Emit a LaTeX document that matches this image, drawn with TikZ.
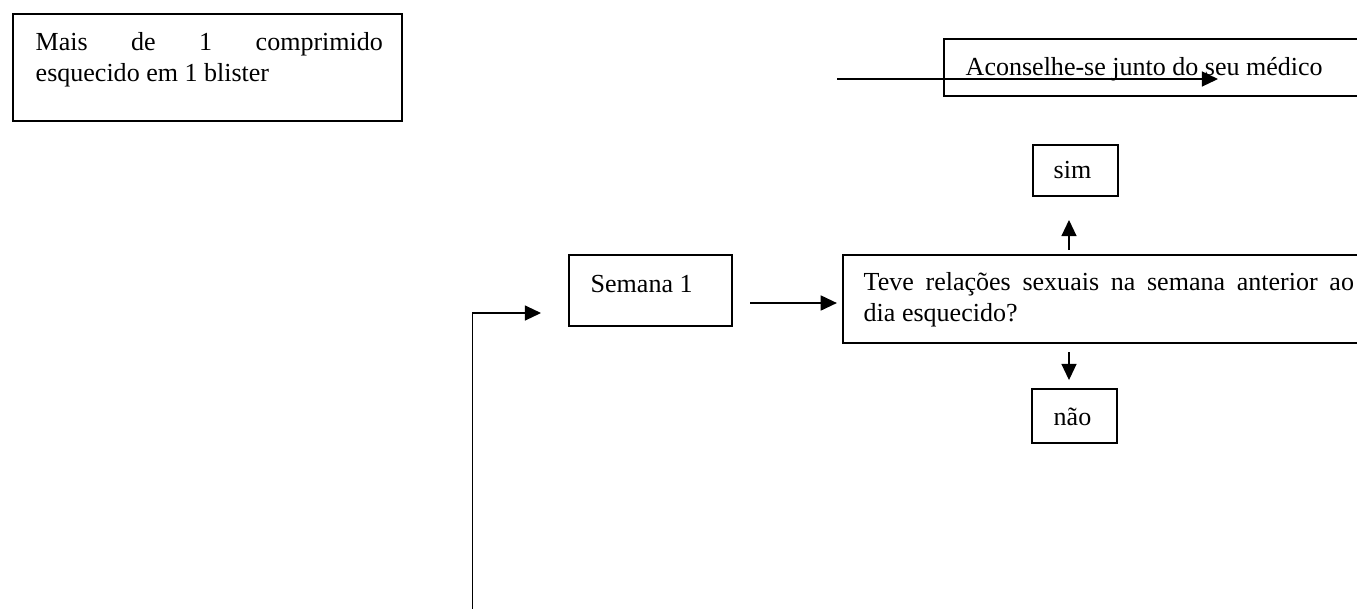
\documentclass[tikz,border=0pt]{standalone}
\usepackage{fontspec}
\setmainfont{Liberation Serif}
\usetikzlibrary{arrows.meta}
\tikzset{
  boxnode/.style={draw, line width=0.55pt, inner sep=0pt, fill=none},
  txt/.style={inner sep=0pt, anchor=base west, font=\fontsize{7.4pt}{9pt}\selectfont},
  conn/.style={line width=0.35pt, -{Triangle[length=4.6pt,width=4.3pt]}},
  plain/.style={line width=0.35pt}
}
\begin{document}
\begin{tikzpicture}[x=0.01cm, y=-0.01cm]
\useasboundingbox (0,0) rectangle (1357,608);
\clip (0,0) rectangle (1357,608);
\fill[white] (0,0) rectangle (1357,608);
% boxes
\node[boxnode, minimum width=3.89cm, minimum height=1.07cm] (b1) at (207.5,67.5) {};
\node[boxnode, minimum width=4.36cm, minimum height=0.57cm] (adv) at (1162,67.5) {};
\node[boxnode, minimum width=0.85cm, minimum height=0.51cm] (sim) at (1075.5,170.5) {};
\node[boxnode, minimum width=1.63cm, minimum height=0.71cm] (sem) at (650.5,290.5) {};
\node[boxnode, minimum width=5.37cm, minimum height=0.88cm] (q) at (1111.5,299) {};
\node[boxnode, minimum width=0.85cm, minimum height=0.54cm] (nao) at (1074.5,416) {};
% texts
\node[txt] (t1) at (35,50) {\parbox[t]{3.47cm}{Mais de 1 comprimido\linebreak esquecido em 1 blister}};
\node[txt] (tadv) at (965,75) {Aconselhe-se junto do seu médico};
\node[txt] (tsim) at (1053,178) {sim};
\node[txt] (tsem) at (590,292) {Semana 1};
\node[txt] (tq) at (863,290) {\parbox[t]{4.9cm}{Teve relações sexuais na semana anterior ao\linebreak dia esquecido?}};
\node[txt] (tnao) at (1053,425) {não};
% connectors
\coordinate (advin) at (837,79);
\draw[conn] (advin) -- ([shift={(56,11.5)}]adv.center);
\draw[conn] ([shift={(17,12.5)}]sem.east) -- ([shift={(-5,4)}]q.west);
\draw[conn] ([shift={(-6.5,53)}]sim.south) -- ([shift={(-6.5,23)}]sim.south);
\draw[conn] ([shift={(-5.5,-36)}]nao.north) -- ([shift={(-5.5,-8)}]nao.north);
\coordinate (loopstart) at (472.5,612);
\draw[conn] (loopstart) |- ([shift={(-27,22.5)}]sem.west);
\end{tikzpicture}
\end{document}
